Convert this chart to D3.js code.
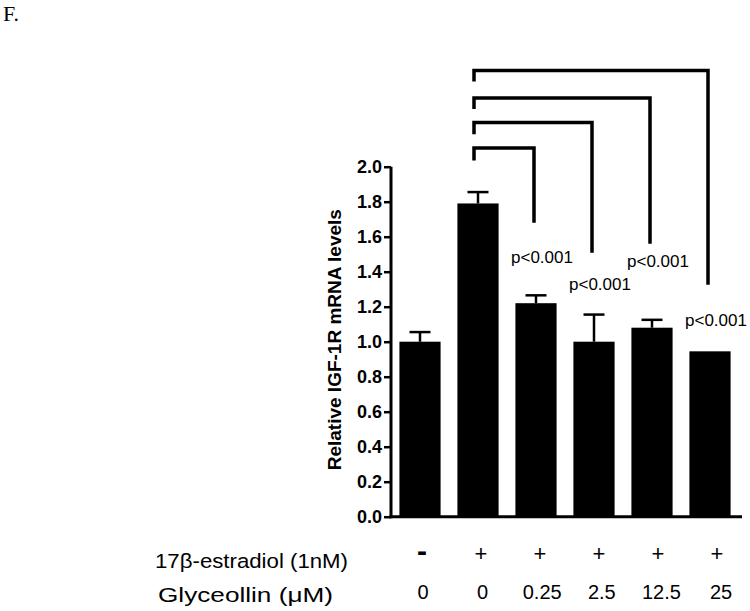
<!DOCTYPE html>
<html>
<head>
<meta charset="utf-8">
<script src="https://cdn.jsdelivr.net/npm/d3@7"></script>
<style>
  body { margin: 0; background: #fff; }
  text { font-family: "Liberation Sans", Arial, sans-serif; fill: #000; }
</style>
</head>
<body>
<script>
// data
const groups = ["g1", "g2", "g3", "g4", "g5", "g6"];
const means = [1.00, 1.79, 1.22, 1.00, 1.08, 0.945];
const errors = [0.055, 0.065, 0.045, 0.155, 0.045, 0];
const estradiol = ["-", "+", "+", "+", "+", "+"];
const glyceollin = ["0", "0", "0.25", "2.5", "12.5", "25"];
const yTicks = [0, 0.2, 0.4, 0.6, 0.8, 1.0, 1.2, 1.4, 1.6, 1.8, 2.0];

// significance brackets: compared against group 2
const bracketTo = [2, 3, 4, 5];
const bracketTop = [2.107, 2.253, 2.392, 2.550];
const bracketLeftEnd = [2.035, 2.185, 2.330, 2.487];
const bracketRightEnd = [1.680, 1.509, 1.560, 1.326];
const pLabel = ["p<0.001", "p<0.001", "p<0.001", "p<0.001"];
const pLabelAt = [1.451, 1.297, 1.429, 1.091];

const width = 750;
const height = 611;

const svg = d3.select("body")
  .append("svg")
  .attr("width", width)
  .attr("height", height);

const x = d3.scaleBand()
  .domain(groups)
  .range([391, 739])
  .paddingInner(0.29)
  .paddingOuter(0.145);

const y = d3.scaleLinear()
  .domain([0, 2])
  .range([516.7, 166.7]);

// treatment rows sit on their own, slightly wider spacing
const signX = d3.scalePoint().domain(groups).range([422, 717]);
const doseX = d3.scalePoint().domain(groups).range([423, 721]);

const cx = i => x(groups[i]) + x.bandwidth() / 2;

// panel letter
svg.append("text")
  .attr("x", 3)
  .attr("y", 21)
  .style("font-family", "'Liberation Serif', 'Times New Roman', serif")
  .style("font-size", "22px")
  .text("F.");

// bars
svg.selectAll("rect.bar")
  .data(means)
  .enter()
  .append("rect")
    .attr("class", "bar")
    .attr("x", (d, i) => x(groups[i]))
    .attr("y", d => y(d))
    .attr("width", x.bandwidth())
    .attr("height", d => y(0) - y(d))
    .attr("fill", "#000");

// error bars (upper only)
const err = svg.append("g")
  .attr("stroke", "#000")
  .attr("stroke-width", 2.5);

means.forEach((m, i) => {
  if (errors[i] <= 0) return;
  err.append("line")
    .attr("x1", cx(i)).attr("x2", cx(i))
    .attr("y1", y(m)).attr("y2", y(m + errors[i]));
  err.append("line")
    .attr("x1", cx(i) - 10.5).attr("x2", cx(i) + 10.5)
    .attr("y1", y(m + errors[i])).attr("y2", y(m + errors[i]));
});

// y axis
const yAxis = d3.axisLeft(y)
  .tickValues(yTicks)
  .tickFormat(d3.format(".1f"))
  .tickSize(7)
  .tickPadding(2);

svg.append("g")
  .attr("transform", "translate(391,0)")
  .call(yAxis)
  .call(g => g.select(".domain").remove())
  .call(g => g.selectAll(".tick line").attr("stroke", "#000").attr("stroke-width", 2.5))
  .call(g => g.selectAll(".tick text")
    .style("font-size", "18px")
    .style("font-weight", "bold")
    .style("font-family", "'Liberation Sans', Arial, sans-serif")
    .attr("fill", "#000"));

svg.append("line")
  .attr("x1", 391).attr("x2", 391)
  .attr("y1", y(2)).attr("y2", y(0) + 1.5)
  .attr("stroke", "#000")
  .attr("stroke-width", 3);

svg.append("line")
  .attr("x1", 389.5).attr("x2", 742)
  .attr("y1", y(0)).attr("y2", y(0))
  .attr("stroke", "#000")
  .attr("stroke-width", 3);

// y axis title
svg.append("text")
  .attr("transform", `translate(341,${(y(0) + y(2)) / 2 - 2}) rotate(-90)`)
  .attr("text-anchor", "middle")
  .style("font-size", "19px")
  .style("font-weight", "bold")
  .text("Relative IGF-1R mRNA levels");

// brackets
const br = svg.append("g")
  .attr("fill", "none")
  .attr("stroke", "#000")
  .attr("stroke-width", 3.5);

bracketTo.forEach((gi, k) => {
  const x0 = cx(1) - 4;
  const x1 = cx(gi) - 2;
  br.append("path")
    .attr("d", `M${x0},${y(bracketLeftEnd[k])}V${y(bracketTop[k])}H${x1}V${y(bracketRightEnd[k])}`);
  svg.append("text")
    .attr("x", cx(gi) + 6)
    .attr("y", y(pLabelAt[k]))
    .attr("text-anchor", "middle")
    .style("font-size", "17px")
    .text(pLabel[k]);
});

// treatment rows
svg.append("text")
  .attr("x", 155)
  .attr("y", 568)
  .attr("textLength", 193)
  .attr("lengthAdjust", "spacingAndGlyphs")
  .style("font-size", "20.5px")
  .text("17β-estradiol (1nM)");

svg.append("text")
  .attr("x", 158)
  .attr("y", 602)
  .attr("textLength", 175)
  .attr("lengthAdjust", "spacingAndGlyphs")
  .style("font-size", "20.5px")
  .text("Glyceollin (μM)");

svg.selectAll("text.sign")
  .data(estradiol)
  .enter()
  .append("text")
    .attr("class", "sign")
    .attr("x", (d, i) => signX(groups[i]))
    .attr("y", (d, i) => d === "-" ? 561 : 561)
    .attr("text-anchor", "middle")
    .style("font-size", d => d === "-" ? "30px" : "22px")
    .style("font-weight", d => d === "-" ? "bold" : "normal")
    .text(d => d);

svg.selectAll("text.dose")
  .data(glyceollin)
  .enter()
  .append("text")
    .attr("class", "dose")
    .attr("x", (d, i) => doseX(groups[i]))
    .attr("y", 599)
    .attr("text-anchor", "middle")
    .style("font-size", "20px")
    .text(d => d);
</script>
</body>
</html>
